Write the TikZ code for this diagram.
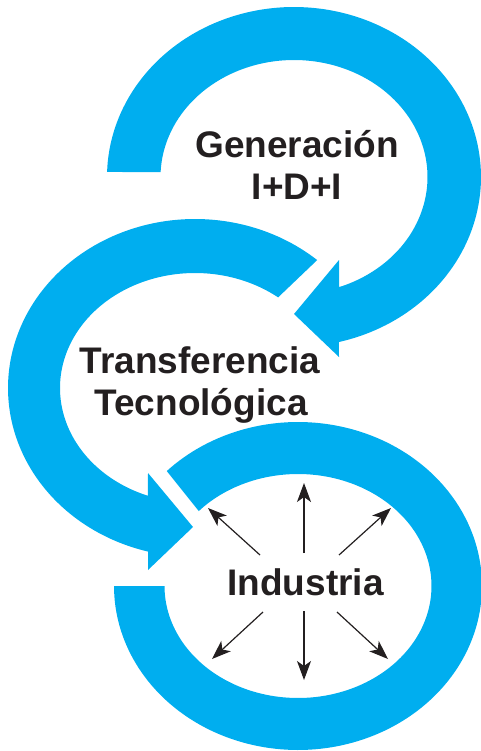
\documentclass[tikz,border=0pt]{standalone}
\usepackage{fontspec}
\setmainfont{Liberation Sans}
\usetikzlibrary{arrows.meta}
\definecolor{ringblue}{RGB}{0,174,239}
\definecolor{ink}{RGB}{35,31,32}
\begin{document}
\begin{tikzpicture}[x=1pt,y=-1pt,
  ring/.style={fill=ringblue,draw=none},
  lbl/.style={font=\fontsize{37}{44}\selectfont\bfseries,text=ink,inner sep=0pt,anchor=base},
  ray/.style={draw=ink,line width=1.2pt,-{Stealth[length=19pt,width=14pt,inset=5pt]}}]
\useasboundingbox (0,0) rectangle (481,751);

% top ring (Generacion)
\path[ring] plot[domain=181.7:436.1,samples=150,variable=\t] ({294+187*cos(\t)},{177+170*sin(\t)})
  -- (339,357) -- (294,314) -- (339,260)
  -- plot[domain=430.3:182.4,samples=150,variable=\t] ({294+133.5*cos(\t)},{177+117*sin(\t)}) -- cycle;

% middle ring (Transferencia)
\path[ring] plot[domain=-49.2:-255.5,samples=150,variable=\t] ({195+187*cos(\t)},{388+169*sin(\t)})
  -- (148,570) -- (193,527) -- (148,473)
  -- plot[domain=-249.6:-52,samples=150,variable=\t] ({195+135*cos(\t)},{388+115*sin(\t)}) -- cycle;

% bottom ring (Industria)
\path[ring] plot[domain=224.5:540,samples=180,variable=\t] ({298+184*cos(\t)},{586+164*sin(\t)})
  -- plot[domain=540:222,samples=180,variable=\t] ({298+133.5*cos(\t)},{586+112*sin(\t)}) -- cycle;

% labels
\node[lbl] (gen1) at (297,158) {Generación};
\node[lbl] (gen2) at (297,200) {I+D+I};
\node[lbl] (tt1) at (200,373) {Transferencia};
\node[lbl] (tt2) at (201,415) {Tecnológica};
\node[lbl] (ind) at (305.5,595) {Industria};

% radiating arrows
\coordinate (upS) at (304,553); \coordinate (upE) at (304,483);
\coordinate (dnS) at (304,611); \coordinate (dnE) at (304,680);
\coordinate (ulS) at (260,555); \coordinate (ulE) at (208,508);
\coordinate (urS) at (339,555); \coordinate (urE) at (391,508);
\coordinate (llS) at (263,612); \coordinate (llE) at (212,659);
\coordinate (lrS) at (337,612); \coordinate (lrE) at (388,659);
\draw[ray] (upS) -- (upE);
\draw[ray] (dnS) -- (dnE);
\draw[ray] (ulS) -- (ulE);
\draw[ray] (urS) -- (urE);
\draw[ray] (llS) -- (llE);
\draw[ray] (lrS) -- (lrE);
\end{tikzpicture}
\end{document}
